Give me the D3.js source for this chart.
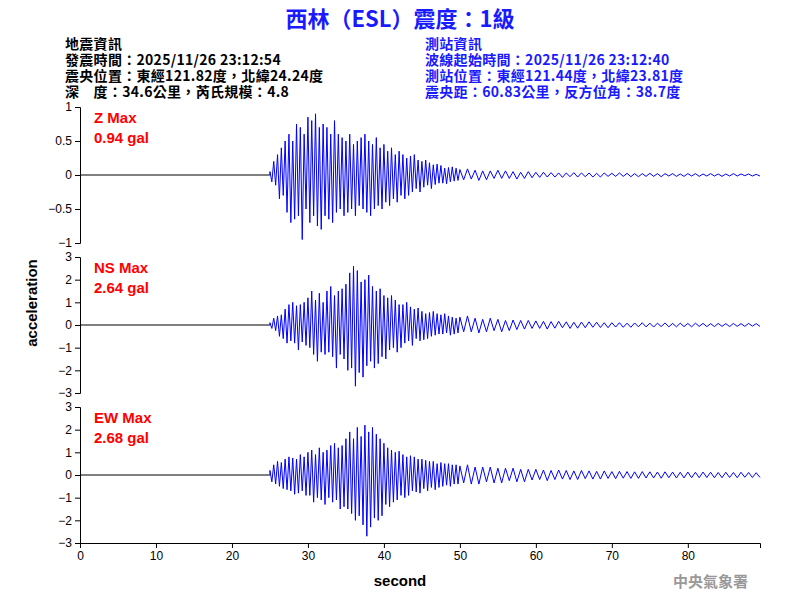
<!DOCTYPE html>
<html>
<head>
<meta charset="utf-8">
<script src="https://cdn.jsdelivr.net/npm/d3@7"></script>
<style>
  body { margin: 0; background: #fff; }
  text { font-family: Arial, "Liberation Sans", sans-serif; }
  .cjk { font-family: "Noto Sans CJK TC", sans-serif; }
</style>
</head>
<body>
<svg id="chart" width="800" height="600"></svg>
<script>
// header texts
const titleText = "西林（ESL）震度：1級";
const leftInfo = ["地震資訊", "發震時間：2025/11/26 23:12:54", "震央位置：東經121.82度，北緯24.24度", "深　度：34.6公里，芮氏規模：4.8"];
const rightInfo = ["測站資訊", "波線起始時間：2025/11/26 23:12:40", "測站位置：東經121.44度，北緯23.81度", "震央距：60.83公里，反方位角：38.7度"];

// signal start and sample steps (seconds)
const onset = 25;
const fineStep = 0.25;   // 25 s .. 50 s
const coarseStep = 0.5;  // 50 s .. 89.5 s

const zValues = [
  0.05,-0.1,0.2,-0.15,0.3,-0.35,0.4,-0.3,0.5,-0.55,
  0.6,-0.7,0.5,-0.65,0.75,-0.6,0.7,-0.95,0.6,-0.5,
  0.85,-0.7,0.8,-0.6,0.9,-0.75,0.7,-0.8,0.75,-0.6,
  0.7,-0.65,0.6,-0.7,0.8,-0.55,0.6,-0.5,0.55,-0.6,
  0.5,-0.55,0.6,-0.5,0.45,-0.6,0.5,-0.45,0.55,-0.5,
  0.6,-0.55,0.5,-0.6,0.45,-0.5,0.55,-0.45,0.4,-0.5,
  0.45,-0.4,0.35,-0.45,0.4,-0.35,0.3,-0.4,0.35,-0.3,
  0.3,-0.35,0.25,-0.3,0.28,-0.25,0.3,-0.2,0.22,-0.25,
  0.2,-0.18,0.22,-0.15,0.18,-0.2,0.15,-0.14,0.16,-0.12,
  0.14,-0.12,0.1,-0.13,0.11,-0.1,0.12,-0.09,0.1,-0.08,
  0.08,-0.07,0.09,-0.06,0.07,-0.08,0.06,-0.07,0.06,-0.05,
  0.07,-0.05,0.06,-0.05,0.05,-0.06,0.04,-0.05,0.05,-0.04,
  0.04,-0.035,0.04,-0.03,0.035,-0.03,0.03,-0.035,0.03,-0.025,
  0.035,-0.03,0.03,-0.025,0.03,-0.03,0.025,-0.03,0.03,-0.02,
  0.025,-0.02,0.03,-0.02,0.025,-0.025,0.02,-0.025,0.02,-0.02,
  0.025,-0.02,0.02,-0.025,0.02,-0.015,0.02,-0.02,0.015,-0.02,
  0.02,-0.015,0.02,-0.02,0.015,-0.015,0.02,-0.015,0.015,-0.02,
  0.015,-0.015,0.02,-0.015,0.015,-0.01,0.015,-0.015,0.01,-0.015
];
const nsValues = [
  0.1,-0.15,0.3,-0.25,0.4,-0.5,0.45,-0.6,0.7,-0.8,
  0.9,-0.7,1.0,-0.8,0.85,-1.1,0.9,-0.75,1.0,-0.9,
  1.2,-1.0,1.5,-1.3,1.1,-1.6,1.4,-1.2,1.0,-1.3,
  1.5,-1.2,1.7,-1.4,1.3,-1.9,1.5,-1.3,1.6,-1.5,
  1.8,-2.0,2.3,-1.9,2.6,-2.7,2.4,-2.1,1.9,-2.3,
  2.0,-1.8,2.2,-1.6,1.7,-1.9,1.5,-1.7,1.6,-1.4,
  1.3,-1.5,1.2,-1.1,1.3,-1.0,1.1,-1.2,0.9,-1.0,
  0.9,-0.8,1.0,-0.7,0.8,-0.9,0.7,-0.6,0.75,-0.7,
  0.6,-0.65,0.5,-0.6,0.55,-0.5,0.6,-0.45,0.5,-0.4,
  0.45,-0.4,0.5,-0.35,0.4,-0.45,0.35,-0.4,0.3,-0.35,
  0.35,-0.3,0.4,-0.3,0.3,-0.35,0.25,-0.3,0.3,-0.25,
  0.25,-0.3,0.2,-0.25,0.22,-0.2,0.2,-0.18,0.2,-0.15,
  0.18,-0.15,0.16,-0.18,0.15,-0.14,0.16,-0.12,0.14,-0.15,
  0.12,-0.14,0.13,-0.12,0.14,-0.1,0.12,-0.11,0.1,-0.12,
  0.1,-0.09,0.1,-0.1,0.08,-0.1,0.09,-0.08,0.1,-0.08,
  0.08,-0.09,0.08,-0.07,0.09,-0.08,0.07,-0.08,0.08,-0.07,
  0.07,-0.08,0.08,-0.06,0.07,-0.07,0.06,-0.07,0.07,-0.06,
  0.06,-0.07,0.07,-0.06,0.06,-0.06,0.07,-0.05,0.06,-0.06
];
const ewValues = [
  0.2,-0.3,0.45,-0.4,0.6,-0.5,0.55,-0.6,0.7,-0.65,
  0.8,-0.7,0.75,-0.85,0.7,-0.8,0.9,-0.7,0.8,-0.9,
  1.0,-0.9,1.1,-1.2,0.9,-1.0,1.2,-1.1,1.0,-1.3,
  1.1,-1.0,1.3,-1.2,1.4,-1.1,1.2,-1.5,1.3,-1.4,
  1.6,-1.5,1.9,-1.7,1.6,-2.0,2.1,-1.8,1.7,-2.2,
  2.2,-2.7,1.9,-2.3,2.1,-1.9,1.8,-2.0,1.6,-1.8,
  1.4,-1.3,1.2,-1.4,1.1,-1.2,1.0,-1.1,1.05,-0.9,
  0.9,-1.0,0.8,-0.9,0.85,-0.7,0.8,-0.75,0.7,-0.8,
  0.7,-0.6,0.65,-0.7,0.6,-0.55,0.6,-0.65,0.5,-0.55,
  0.55,-0.5,0.5,-0.45,0.5,-0.5,0.45,-0.4,0.45,-0.4,
  0.4,-0.35,0.45,-0.4,0.35,-0.4,0.35,-0.3,0.35,-0.35,
  0.3,-0.35,0.3,-0.25,0.3,-0.3,0.25,-0.3,0.25,-0.22,
  0.25,-0.2,0.22,-0.25,0.2,-0.2,0.22,-0.18,0.2,-0.2,
  0.18,-0.2,0.2,-0.16,0.18,-0.18,0.16,-0.18,0.18,-0.15,
  0.15,-0.16,0.16,-0.14,0.15,-0.15,0.14,-0.15,0.15,-0.13,
  0.14,-0.13,0.13,-0.14,0.14,-0.12,0.13,-0.13,0.12,-0.13,
  0.13,-0.12,0.12,-0.12,0.13,-0.11,0.12,-0.12,0.11,-0.12,
  0.12,-0.11,0.11,-0.12,0.12,-0.1,0.11,-0.11,0.1,-0.11
];

const panels = [
  {name: "Z Max",  peak: "0.94 gal", values: zValues,  range: 1, ticks: [-1, -0.5, 0, 0.5, 1], top: 107},
  {name: "NS Max", peak: "2.64 gal", values: nsValues, range: 3, ticks: [-3, -2, -1, 0, 1, 2, 3], top: 257},
  {name: "EW Max", peak: "2.68 gal", values: ewValues, range: 3, ticks: [-3, -2, -1, 0, 1, 2, 3], top: 407}
];
const xTicks = [0, 10, 20, 30, 40, 50, 60, 70, 80];

const svg = d3.select("#chart");
const left = 80, right = 760, panelH = 136;
const x = d3.scaleLinear().domain([0, 89.5]).range([left, right]);

function sampleTime(i) {
  return i < 100 ? onset + i * fineStep : 50 + (i - 100) * coarseStep;
}

svg.append("text").attr("class", "cjk")
  .attr("x", 400).attr("y", 27).attr("text-anchor", "middle")
  .attr("font-size", 22).attr("font-weight", "bold").attr("fill", "#1a1aff")
  .text(titleText);

leftInfo.forEach((s, i) => {
  svg.append("text").attr("class", "cjk").attr("x", 65).attr("y", 49 + i * 16)
    .attr("font-size", 14).attr("letter-spacing", 0.3).attr("font-weight", "bold")
    .attr("fill", "#000").text(s);
});
rightInfo.forEach((s, i) => {
  svg.append("text").attr("class", "cjk").attr("x", 425).attr("y", 49 + i * 16)
    .attr("font-size", 14).attr("letter-spacing", 0.3).attr("font-weight", "bold")
    .attr("fill", "#1a1aff").text(s);
});

panels.forEach((p, k) => {
  const y = d3.scaleLinear().domain([-p.range, p.range]).range([p.top + panelH, p.top]);
  const g = svg.append("g");

  g.append("g").attr("transform", `translate(${left},0)`)
    .call(d3.axisLeft(y).tickValues(p.ticks).tickSize(5).tickFormat(d3.format("")))
    .call(a => a.selectAll("text").attr("font-size", 12).attr("fill", "#000"))
    .call(a => a.select(".domain").attr("stroke", "#000"));

  // zero baseline before onset, then signal
  const pts = [[0, 0], [onset, 0]].concat(p.values.map((v, i) => [sampleTime(i), v]));
  g.append("path").datum(pts.slice(0, 2))
    .attr("d", d3.line().x(d => x(d[0])).y(d => y(d[1])))
    .attr("stroke", "#000").attr("stroke-width", 1).attr("fill", "none");
  g.append("path").datum(pts.slice(1))
    .attr("d", d3.line().x(d => x(d[0])).y(d => y(d[1])))
    .attr("stroke", "#0000ff").attr("stroke-width", 1).attr("fill", "none");

  g.append("text").attr("x", 94).attr("y", p.top + 16).attr("font-size", 15)
    .attr("font-weight", "bold").attr("fill", "#ff0000").text(p.name);
  g.append("text").attr("x", 94).attr("y", p.top + 36).attr("font-size", 15)
    .attr("font-weight", "bold").attr("fill", "#ff0000").text(p.peak);

  if (k === panels.length - 1) {
    svg.append("g").attr("transform", `translate(0,${p.top + panelH})`)
      .call(d3.axisBottom(x).tickValues(xTicks).tickSize(5))
      .call(a => a.selectAll("text").attr("font-size", 12).attr("fill", "#000"))
      .call(a => a.select(".domain").attr("stroke", "#000"));
  }
});

svg.append("text").attr("x", 400).attr("y", 586).attr("text-anchor", "middle")
  .attr("font-size", 15).attr("font-weight", "bold").text("second");
svg.append("text").attr("transform", "translate(37,303) rotate(-90)")
  .attr("text-anchor", "middle").attr("font-size", 15).attr("font-weight", "bold")
  .text("acceleration");
svg.append("text").attr("class", "cjk").attr("x", 748).attr("y", 587)
  .attr("text-anchor", "end").attr("font-size", 15).attr("font-weight", "bold")
  .attr("fill", "#999").text("中央氣象署");
</script>
</body>
</html>
